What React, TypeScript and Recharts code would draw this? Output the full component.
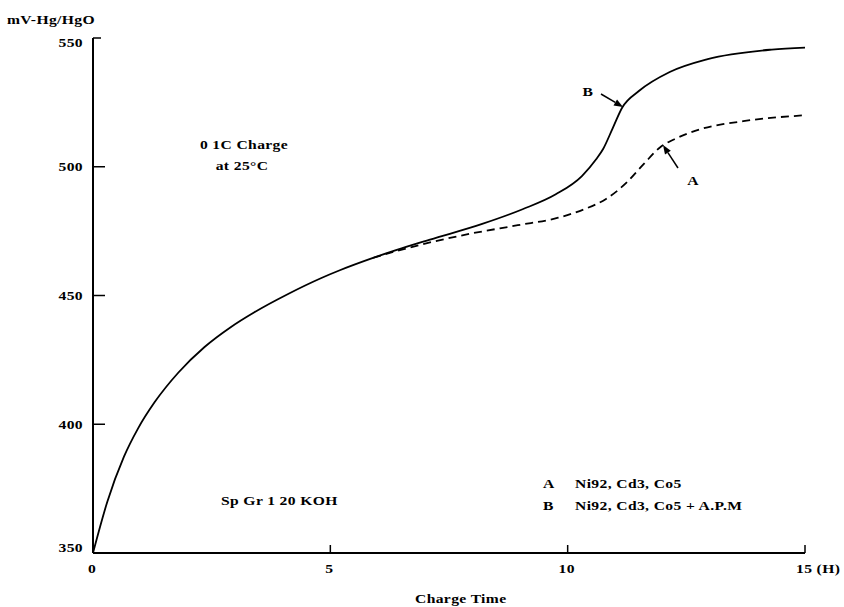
import React from 'react';
import { LineChart, Line, XAxis, YAxis } from 'recharts';

// Curve B (solid): Ni92, Cd3, Co5 + A.P.M
const timeB = [0, 0.3, 0.65, 0.95, 1.3, 1.8, 2.35, 2.9, 3.4, 4.1, 4.8, 5.2, 5.9, 6.4, 7.1, 8.2, 9.05, 9.75, 10.3, 10.6, 10.75, 10.95, 11.15, 11.5, 12.15, 12.95, 14.3, 15];
const voltB = [350, 369.8, 387.3, 398.4, 408.6, 420.1, 430, 437.7, 443.5, 450.5, 456.7, 459.8, 464.6, 467.7, 471.7, 477.8, 483.5, 489.3, 496.4, 502.9, 507, 515, 523, 529.4, 536.8, 541.8, 545.5, 546.3];

// Curve A (dashed): Ni92, Cd3, Co5
const timeA = [5.9, 6.4, 7.1, 7.95, 8.95, 9.8, 10.35, 10.8, 11.25, 11.6, 11.95, 12.25, 12.8, 13.7, 15];
const voltA = [464.6, 467.3, 470.6, 474, 477.3, 480.2, 483.5, 487.4, 494, 501, 507.6, 510.7, 514.6, 517.7, 520];

const xTicks = [0, 5, 10, 15];
const yTicks = [350, 400, 450, 500, 550];

const seriesB = timeB.map((t, i) => ({ t, v: voltB[i] }));
const seriesA = timeA.map((t, i) => ({ t, v: voltA[i] }));

const FONT = "'Liberation Serif', 'Times New Roman', serif";

function Label({ x, y, anchor = 'start', children }: any) {
  return (
    <text
      transform={`translate(${x},${y}) scale(1.25,1)`}
      textAnchor={anchor}
      fontFamily={FONT}
      fontWeight="bold"
      fontSize={12.5}
      letterSpacing={0.3}
      fill="#000"
    >
      {children}
    </text>
  );
}

function XTick(props: any) {
  const { x, y, payload } = props;
  const v = payload.value;
  return (
    <g>
      {v !== 0 && <line x1={x} x2={x} y1={y} y2={y - 8} stroke="#000" strokeWidth={1.5} />}
      {v === 15 ? (
        <Label x={x - 9} y={y + 20} anchor="start">15 (H)</Label>
      ) : (
        <Label x={x - 1} y={y + 20} anchor="middle">{String(v)}</Label>
      )}
    </g>
  );
}

function YTick(props: any) {
  const { x, y, payload } = props;
  const v = payload.value;
  const len = v === 550 ? 8 : 12;
  const dy = v === 550 ? 4 : v === 350 ? -6 : 0;
  return (
    <g>
      {v !== 350 && <line x1={x} x2={x + len} y1={y} y2={y} stroke="#000" strokeWidth={1.5} />}
      <Label x={x - 10} y={y + 4.5 + dy} anchor="end">{String(v)}</Label>
    </g>
  );
}

function Arrow({ x1, y1, x2, y2 }: any) {
  const ang = Math.atan2(y2 - y1, x2 - x1);
  const L = 9, W = 3.5;
  const bx = x2 - L * Math.cos(ang), by = y2 - L * Math.sin(ang);
  const px = -Math.sin(ang) * W, py = Math.cos(ang) * W;
  return (
    <g>
      <line x1={x1} y1={y1} x2={bx} y2={by} stroke="#000" strokeWidth={1.5} />
      <polygon points={`${x2},${y2} ${bx + px},${by + py} ${bx - px},${by - py}`} fill="#000" />
    </g>
  );
}

export default function App() {
  return (
    <div style={{ position: 'absolute', left: 0, top: 0, width: 844, height: 607, background: '#fff' }}>
      <LineChart
        width={844}
        height={607}
        margin={{ top: 38, right: 39, bottom: 24, left: 33 }}
      >
        <XAxis
          dataKey="t"
          type="number"
          domain={[0, 15]}
          ticks={xTicks}
          height={30}
          tickSize={0}
          tickMargin={0}
          axisLine={{ stroke: '#000', strokeWidth: 2 }}
          tickLine={false}
          tick={<XTick />}
          interval={0}
          allowDataOverflow
        />
        <YAxis
          type="number"
          domain={[350, 550]}
          ticks={yTicks}
          width={60}
          tickSize={0}
          tickMargin={0}
          axisLine={{ stroke: '#000', strokeWidth: 2 }}
          tickLine={false}
          tick={<YTick />}
          interval={0}
          allowDataOverflow
        />
        <Line
          data={seriesB}
          dataKey="v"
          type="monotone"
          stroke="#000"
          strokeWidth={1.8}
          dot={false}
          isAnimationActive={false}
        />
        <Line
          data={seriesA}
          dataKey="v"
          type="monotone"
          stroke="#000"
          strokeWidth={1.8}
          strokeDasharray="8 5"
          dot={false}
          isAnimationActive={false}
        />
      </LineChart>
      <svg
        width={844}
        height={607}
        style={{ position: 'absolute', left: 0, top: 0, pointerEvents: 'none' }}
      >
        <Label x={7} y={24}>mV-Hg/HgO</Label>
        <Label x={244} y={149} anchor="middle">0 1C Charge</Label>
        <Label x={242} y={170} anchor="middle">at 25°C</Label>
        <Label x={221} y={505}>Sp Gr  1 20 KOH</Label>
        <Label x={543} y={488}>A</Label>
        <Label x={575} y={488}>Ni92, Cd3, Co5</Label>
        <Label x={543} y={510}>B</Label>
        <Label x={575} y={510}>Ni92, Cd3, Co5 + A.P.M</Label>
        <Label x={415} y={603}>Charge Time</Label>
        <Label x={588} y={96} anchor="middle">B</Label>
        <Label x={693} y={185} anchor="middle">A</Label>
        <Arrow x1={601} y1={94} x2={623} y2={107} />
        <Arrow x1={678} y1={168} x2={663} y2={145} />
      </svg>
    </div>
  );
}
